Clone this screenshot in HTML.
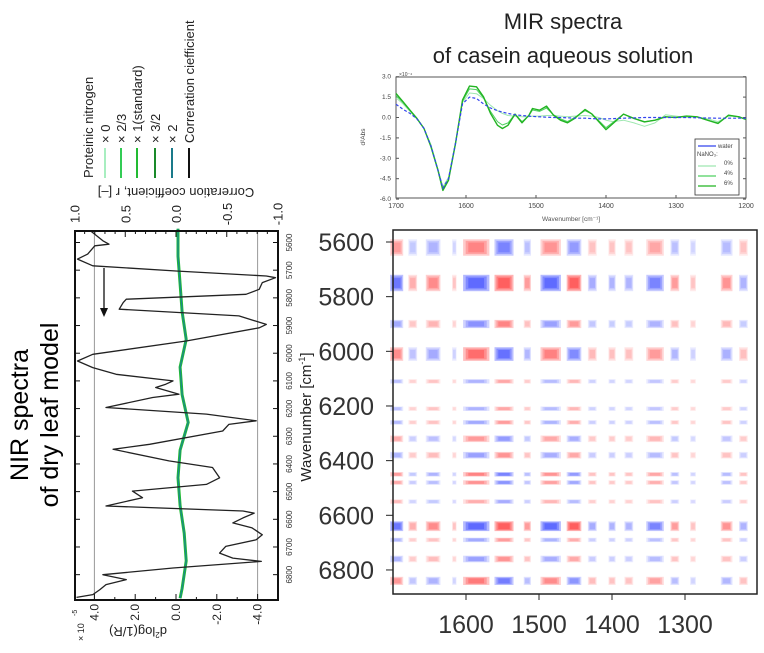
<!DOCTYPE html>
<html><head><meta charset="utf-8"><style>
html,body{margin:0;padding:0;background:#fff;}
svg{display:block;font-family:"Liberation Sans",sans-serif;}
</style></head><body>
<svg id="fig" width="764" height="653" viewBox="0 0 764 653" xmlns="http://www.w3.org/2000/svg">
<g id="left"></g>
<g id="mir"></g>
<g id="heat"></g>
</svg>
<script>
// ---------- NIR (left) data ----------
const nirWn = [5550,5594,5606,5612,5642,5660,5684,5703,5721,5727,5745,5769,5787,5805,5817,5841,5865,5896,5908,5956,6004,6028,6052,6076,6100,6112,6124,6148,6160,6196,6220,6244,6257,6281,6329,6347,6389,6413,6450,6474,6498,6522,6552,6570,6578,6595,6613,6631,6656,6674,6698,6722,6740,6752,6776,6800,6818,6836,6854,6872,6882];
const nirCorr = [0.84,0.72,0.66,0.80,0.87,0.97,0.82,0,-0.89,-0.98,-0.85,-0.82,-0.69,0.49,0.52,0.56,-0.62,-0.89,-0.82,-0.1,0.82,0.97,0.82,0.59,0.03,0.1,0.2,-0.03,0.23,0.69,-0.3,-0.79,-0.52,-0.46,0.26,0.62,0.07,-0.36,-0.43,-0.3,0.43,0.33,0.69,-0.66,-0.77,-0.66,-0.56,-0.75,-0.85,-0.79,-0.49,-0.43,-0.56,-0.84,0.03,0.72,0.49,0.69,0.75,0.82,0.98];
const nirSpecWn = [5550,5650,5750,5850,5950,6050,6150,6250,6350,6450,6550,6650,6750,6850,6885];
const nirSpecVal = [-0.1,-0.1,-0.2,-0.3,-0.5,-0.2,-0.3,-0.6,-0.2,-0.1,-0.2,-0.4,-0.5,-0.3,-0.2];
const nirWnTicks = [5600,5700,5800,5900,6000,6100,6200,6300,6400,6500,6600,6700,6800];
const corrTicks = ["1.0","0.5","0.0","-0.5","-1.0"];
const corrTickVals = [1,0.5,0,-0.5,-1];
const d2TickVals = [4,2,0,-2,-4];
const d2Ticks = ["4.0","2.0","0.0","-2.0","-4.0"];
const legendLabels = ["Proteinic nitrogen","× 0","× 2/3","× 1(standard)","× 3/2","× 2","Correration ciefficient"];
const legendColors = ["none","#a8eec0","#33cc55","#22bb33","#1a8a2a","#1a7a8a","#111"];

// ---------- MIR data ----------
const mirWn = [1700,1690,1680,1670,1660,1650,1640,1633,1625,1615,1605,1595,1585,1575,1565,1555,1548,1540,1530,1520,1510,1505,1495,1485,1475,1465,1455,1445,1430,1420,1410,1400,1390,1375,1360,1345,1330,1315,1300,1285,1270,1255,1240,1225,1210,1200];
const mir6 = [1.77,1.16,0.54,-0.07,-0.81,-2.16,-3.89,-5.36,-4.62,-1.92,1.28,2.31,2.26,1.52,0.3,-0.57,-0.81,-0.57,0.25,-0.39,0.17,0.66,0.54,0.84,0.17,-0.2,-0.39,-0.07,0.59,0.25,-0.32,-0.89,-0.44,0.25,-0.07,-0.32,-0.2,0.05,0,0.1,0.05,-0.2,-0.44,0.17,0.05,-0.15];
const mir4 = [1.6,1.1,0.5,-0.1,-0.8,-2.1,-3.85,-5.25,-4.55,-1.9,1.2,2.1,2.05,1.45,0.45,-0.3,-0.55,-0.4,0.25,-0.3,0.15,0.55,0.45,0.7,0.2,-0.1,-0.3,0,0.5,0.25,-0.25,-0.75,-0.35,0.25,-0.05,-0.3,-0.2,0.05,0,0.1,0.05,-0.2,-0.4,0.15,0.05,-0.15];
const mir0 = [1.45,1.0,0.45,-0.1,-0.8,-2.0,-3.8,-5.1,-4.4,-1.8,1.1,1.8,1.75,1.4,0.9,0.5,0.3,0.15,0.1,0.05,0.05,0.1,0.1,0.15,0.15,0.1,0.05,0.1,0.15,0.1,0,-0.2,-0.3,-0.2,-0.4,-0.65,-0.4,0.2,0.1,0,0.05,-0.1,-0.3,0.1,0.05,-0.1];
const mirWater = [0.98,0.6,0.3,-0.1,-0.8,-2.1,-3.9,-5.2,-4.5,-1.9,1.0,1.5,1.4,1.0,0.7,0.5,0.4,0.3,0.2,0.15,0.1,0.08,0.05,0.02,0,0,-0.02,-0.05,-0.05,-0.08,-0.1,-0.1,-0.08,-0.05,-0.03,0,0,0,0,0,-0.02,-0.04,-0.05,-0.05,-0.05,-0.05];
const mirYTicks = [3.0,1.5,0.0,-1.5,-3.0,-4.5,-6.0];
const mirXTicks = [1700,1600,1500,1400,1300,1200];

// ---------- heatmap data ----------
const heatRowWn = [5620,5750,5900,6010,6110,6210,6260,6320,6380,6450,6480,6550,6640,6690,6760,6840];
const heatRowVal = [-0.5,1.0,0.45,-0.65,0.25,0.25,0.3,-0.35,0.35,-0.5,-0.4,-0.25,1.0,0.3,0.35,-0.55];
const heatRowSpan = [30,30,15,25,8,8,8,12,12,8,8,8,18,8,12,15];
const heatColWn = [1695,1673,1645,1616,1586,1548,1516,1484,1452,1427,1400,1377,1341,1314,1289,1243,1220];
const heatColVal = [-0.6,0.2,0.4,0.1,-0.9,1.0,0.3,-0.7,0.7,-0.25,-0.2,-0.2,-0.5,0.3,0.1,0.35,-0.2];
const heatColSpan = [9,6,10,3,18,13,5,14,10,6,5,6,12,6,4,8,6];
const heatXTicks = [1600,1500,1400,1300];
const heatYTicks = [5600,5800,6000,6200,6400,6600,6800];

const NS="http://www.w3.org/2000/svg";
function mk(parent,tag,attrs,text){const e=document.createElementNS(NS,tag);for(const k in attrs)e.setAttribute(k,attrs[k]);if(text!==undefined)e.textContent=text;parent.appendChild(e);return e;}

// ===== LEFT PANEL =====
(function(){
const g=document.getElementById('left');
const L=75,R=278,T=231,B=600;
const yW=w=>242.5+(w-5600)*0.2768;
const xC=r=>176-r*101.5;
const xD=d=>176-d*20.4;
let t;
t=mk(g,'text',{x:0,y:0,'font-size':25,'text-anchor':'middle',transform:'translate(28,415) rotate(-90)'},'NIR spectra');

t=mk(g,'text',{x:0,y:0,'font-size':25,'text-anchor':'middle',transform:'translate(58,415) rotate(-90)'},'of dry leaf model');

for(const d of [4,-4]){const l=mk(g,'line',{x1:xD(d),x2:xD(d),y1:T,y2:B,stroke:'#999','stroke-width':1});}
const sp=nirSpecWn.map((w,i)=>xD(nirSpecVal[i]).toFixed(1)+','+yW(w).toFixed(1)).join(' ');
t=mk(g,'polyline',{points:sp,fill:'none',stroke:'#22bb33','stroke-width':3});

t=mk(g,'polyline',{points:sp,fill:'none',stroke:'#1a8a8a','stroke-width':1.3});

const cp=nirWn.map((w,i)=>xC(nirCorr[i]).toFixed(1)+','+Math.max(T,yW(w)).toFixed(1)).join(' ');
t=mk(g,'polyline',{points:cp,fill:'none',stroke:'#222','stroke-width':1.3,'stroke-linejoin':'round'});

t=mk(g,'line',{x1:104,y1:268,x2:104,y2:312,stroke:'#111','stroke-width':1.3});

t=mk(g,'path',{d:'M100,308 L104,317 L108,308 Z',fill:'#111'});

t=mk(g,'rect',{x:L,y:T,width:R-L,height:B-T,fill:'none',stroke:'#111','stroke-width':2});

nirWnTicks.forEach(w=>{const y=yW(w);
 const l=mk(g,'line',{x1:R-5,x2:R,y1:y,y2:y,stroke:'#111'});
 const l2=mk(g,'line',{x1:L,x2:L+5,y1:y,y2:y,stroke:'#111'});
 const tx=mk(g,'text',{x:0,y:0,'font-size':8,'text-anchor':'middle',fill:'#333',transform:`translate(292,${y}) rotate(-90)`},String(w));
 });
for(let k=0;k<=20;k++){const r=1-k*0.1;const x=xC(r);
 const l=mk(g,'line',{x1:x,x2:x,y1:T,y2:T+(k%5==0?6:3),stroke:'#111'});}
corrTickVals.forEach((r,i)=>{const tx=mk(g,'text',{x:0,y:0,'font-size':13,'text-anchor':'middle',fill:'#222',transform:`translate(${xC(r)+5},214) rotate(-90)`},corrTicks[i]);
 });
t=mk(g,'text',{x:0,y:0,'font-size':13,'text-anchor':'middle',fill:'#222',transform:'translate(176,188) rotate(180)'},'Correration coefficient, r [–]');

for(let d=4;d>=-4;d-=1){const x=xD(d);const l=mk(g,'line',{x1:x,x2:x,y1:B-(d%2==0?6:3),y2:B,stroke:'#111'});}
d2TickVals.forEach((d,i)=>{const tx=mk(g,'text',{x:0,y:0,'font-size':12,'text-anchor':'end',fill:'#222',transform:`translate(${xD(d)+4},604) rotate(-90)`},d2Ticks[i]);
 });
t=mk(g,'text',{x:0,y:0,'font-size':9,fill:'#222',transform:'translate(84,641) rotate(-90)'},'× 10');

t=mk(g,'text',{x:0,y:0,'font-size':7,fill:'#222',transform:'translate(77,616) rotate(-90)'},'-5');

t=mk(g,'text',{x:0,y:0,'font-size':13,'text-anchor':'middle',fill:'#222',transform:'translate(138,627) rotate(180)'});
t.innerHTML='d<tspan font-size="8" dy="-5">2</tspan><tspan dy="5">log(1/R)</tspan>';

const lx=[88,105,121,137,155,172,189];
legendLabels.forEach((lab,i)=>{
 const tx=mk(g,'text',{x:0,y:0,'font-size':13,fill:'#222',transform:`translate(${lx[i]+5},${i==0?178:143}) rotate(-90)`},lab);
 
 if(legendColors[i]!=='none'){const l=mk(g,'line',{x1:lx[i],x2:lx[i],y1:148,y2:178,stroke:legendColors[i],'stroke-width':2});
 }
});
})();

// ===== MIR PANEL =====
(function(){
const g=document.getElementById('mir');
const L=396,R=746,T=77,B=198;
const x=w=>L+(1700-w)*(R-L)/500;
const y=v=>117.5-v*13.6;
let t;
t=mk(g,'text',{x:563,y:29,'font-size':22,'text-anchor':'middle',fill:'#222'},'MIR spectra');

t=mk(g,'text',{x:563,y:63,'font-size':22,'text-anchor':'middle',fill:'#222'},'of casein aqueous solution');

t=mk(g,'rect',{x:L,y:T,width:R-L,height:B-T,fill:'#fff',stroke:'#555','stroke-width':1});

mirYTicks.forEach(v=>{const yy=y(v);
 const l=mk(g,'line',{x1:L,x2:L+3,y1:yy,y2:yy,stroke:'#555'});
 const l2=mk(g,'line',{x1:R-3,x2:R,y1:yy,y2:yy,stroke:'#555'});
 const tx=mk(g,'text',{x:L-5,y:yy+2,'font-size':6.5,'text-anchor':'end',fill:'#444'},v.toFixed(1));
 });
t=mk(g,'text',{x:399,y:76,'font-size':5,fill:'#444'},'×10⁻⁴');

mirXTicks.forEach(w=>{const xx=x(w);
 const l=mk(g,'line',{x1:xx,x2:xx,y1:B-3,y2:B,stroke:'#555'});
 const tx=mk(g,'text',{x:xx,y:208,'font-size':7,'text-anchor':'middle',fill:'#444'},String(w));
 });
t=mk(g,'text',{x:571,y:221,'font-size':6.5,'text-anchor':'middle',fill:'#555'},'Wavenumber [cm⁻¹]');

t=mk(g,'text',{x:0,y:0,'font-size':6.5,'text-anchor':'middle',fill:'#444',transform:'translate(365,137) rotate(-90)'},'d²Abs');

const series=[[mir0,'#9fe8b0',1,'mir-0pct'],[mir4,'#4fd060',1,'mir-4pct'],[mir6,'#22b422',1.4,'mir-6pct']];
series.forEach(s=>{const p=mirWn.map((w,i)=>x(w).toFixed(1)+','+y(s[0][i]).toFixed(1)).join(' ');
 const pl=mk(g,'polyline',{points:p,fill:'none',stroke:s[1],'stroke-width':s[2],'stroke-linejoin':'round'});
 });
const wp=mirWn.map((w,i)=>x(w).toFixed(1)+','+y(mirWater[i]).toFixed(1)).join(' ');
t=mk(g,'polyline',{points:wp,fill:'none',stroke:'#3344ee','stroke-width':1.2,'stroke-dasharray':'3,2'});

t=mk(g,'rect',{x:695,y:139,width:44,height:56,fill:'#fff',stroke:'#333','stroke-width':0.8});

const lg=[['water','#3344ee',146],['NaNO₃:','none',154],['0%','#9fe8b0',163],['4%','#4fd060',173],['6%','#22b422',183]];
lg.forEach((e,i)=>{
 if(e[1]!=='none'){const l=mk(g,'line',{x1:698,x2:716,y1:e[2]+(i==0?0:3),y2:e[2]+(i==0?0:3),stroke:e[1],'stroke-width':1.3});}
 const tx=mk(g,'text',{x:i<2?(i==0?718:697):724,y:e[2]+2,'font-size':6,fill:'#444'},e[0]);
 });
})();

// ===== HEATMAP =====
(function(){
const g=document.getElementById('heat');
const L=393,R=757,T=230,B=594;
const x=w=>L+(1700-w)*0.73;
const y=w=>242+(w-5600)*0.2733;
const cells=mk(g,'g',{});

heatRowWn.forEach((rw,i)=>{heatColWn.forEach((cw,j)=>{
 const v=heatRowVal[i]*heatColVal[j];const a=Math.abs(v);if(a<0.015)return;
 const col=v>0?'#ff1a1a':'#1a2aff';
 for(let k=1;k<=3;k++){const f=k/3;
  const w=heatColSpan[j]*0.73*2*(1.2-f*0.6), h=heatRowSpan[i]*0.2733*2*(1.2-f*0.6);
  const r=mk(cells,'rect',{x:(x(cw)-w/2).toFixed(1),y:(y(rw)-h/2).toFixed(1),width:w.toFixed(1),height:h.toFixed(1),fill:col,'fill-opacity':(Math.min(1,0.15+a*1.2)*0.33).toFixed(3)});
  
 }});});
let t=mk(g,'rect',{x:L,y:T,width:R-L,height:B-T,fill:'none',stroke:'#222','stroke-width':1.5});

heatXTicks.forEach(w=>{const xx=x(w);
 const l=mk(g,'line',{x1:xx,x2:xx,y1:B,y2:B+6,stroke:'#222'});
 const tx=mk(g,'text',{x:xx,y:633,'font-size':25,'text-anchor':'middle',fill:'#333'},String(w));
 });
heatYTicks.forEach(w=>{const yy=y(w);
 const l=mk(g,'line',{x1:L-7,x2:L,y1:yy,y2:yy,stroke:'#222'});
 const tx=mk(g,'text',{x:374,y:yy+9,'font-size':25,'text-anchor':'end',fill:'#333'},String(w));
 });
t=mk(g,'text',{x:0,y:0,'font-size':15,'text-anchor':'middle',fill:'#222',transform:'translate(311,417) rotate(-90)'});
t.innerHTML='Wavenumber [cm<tspan font-size="9" dy="-6">-1</tspan><tspan dy="6">]</tspan>';

})();
</script>
</body></html>
